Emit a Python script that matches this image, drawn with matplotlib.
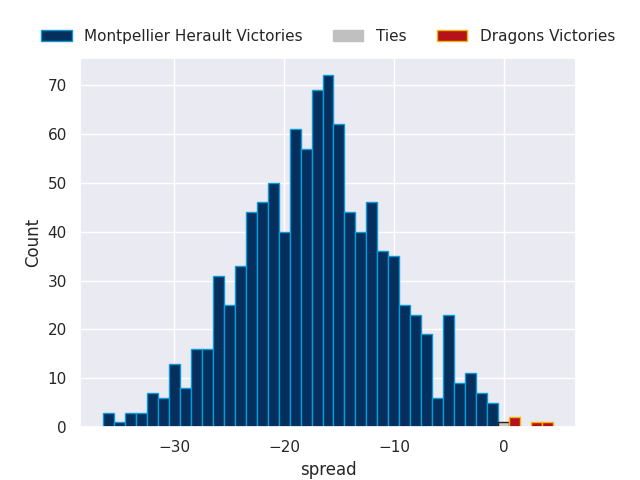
import matplotlib
matplotlib.use("Agg")
import matplotlib.pyplot as plt
import seaborn as sns
from matplotlib.patches import Patch

sns.set_theme(style="darkgrid")

# spread value -> count (bins of width 1 centred on integers)
mh_spread = list(range(-36, 0))
mh_counts = [3, 1, 3, 3, 7, 6, 13, 8, 16, 16, 31, 25, 33, 44, 46, 50, 40,
             61, 57, 69, 72, 62, 44, 40, 46, 36, 35, 25, 23, 19, 6, 23, 9,
             11, 7, 5]
tie_spread = [0]
tie_counts = [1]
dr_spread = [1, 3, 4]
dr_counts = [2, 1, 1]

mh_face, mh_edge = "#052f5c", "#0a9ad8"
tie_face, tie_edge = "#c8c8c8", "#222222"
dr_face, dr_edge = "#b5121b", "#f2b705"

fig, ax = plt.subplots(figsize=(6.4, 4.8), dpi=100)
ax.bar(mh_spread, mh_counts, width=1, color=mh_face, edgecolor=mh_edge, linewidth=1)
ax.bar(tie_spread, tie_counts, width=1, color=tie_face, edgecolor=tie_edge, linewidth=1)
ax.bar(dr_spread, dr_counts, width=1, color=dr_face, edgecolor=dr_edge, linewidth=1)

ax.set_xlabel("spread")
ax.set_ylabel("Count")

handles = [
    Patch(facecolor=mh_face, edgecolor=mh_edge, label="Montpellier Herault Victories"),
    Patch(facecolor="#c0c0c0", edgecolor="#c0c0c0", label="Ties"),
    Patch(facecolor=dr_face, edgecolor=dr_edge, label="Dragons Victories"),
]
ax.legend(handles=handles, loc="lower center", bbox_to_anchor=(0.5, 1.0),
          ncol=3, frameon=False, fontsize=11)

fig.savefig("out.png")
